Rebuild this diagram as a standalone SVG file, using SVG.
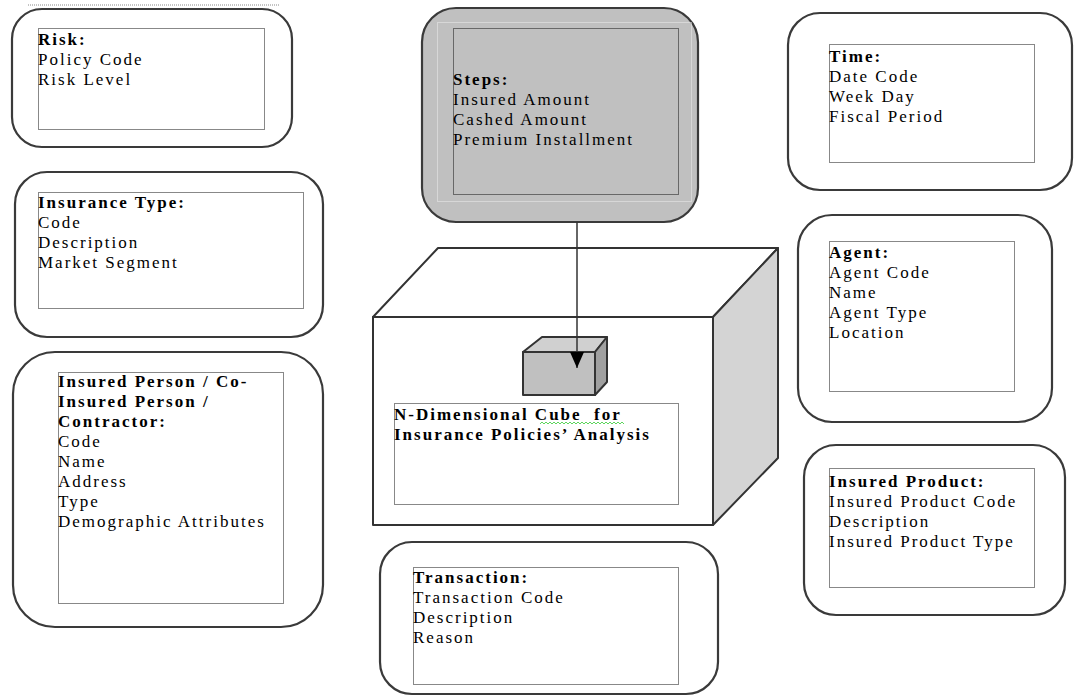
<svg xmlns="http://www.w3.org/2000/svg" width="1074" height="699" viewBox="0 0 1074 699">
<style>
.box{fill:#fff;stroke:#3a3a3a;stroke-width:2.2}
.dot{fill:none;stroke:#111;stroke-width:1;stroke-dasharray:1 1}
.t{font-family:"Liberation Serif","Times New Roman",serif;font-size:17px;letter-spacing:2px;fill:#000}
.b{font-weight:bold}
.edge{stroke:#333;stroke-width:2;stroke-linejoin:round}
</style>
<defs>
<marker id="ah" markerWidth="16" markerHeight="14" refX="16" refY="7" orient="auto" markerUnits="userSpaceOnUse" viewBox="0 0 16 14">
<path d="M0,0 L16,7 L0,14 Z" fill="#000"/>
</marker>
</defs>
<rect width="1074" height="699" fill="#fff"/>
<line x1="28" y1="5" x2="280" y2="5" stroke="#888" stroke-width="1" stroke-dasharray="1 1"/>

<g id="risk">
<rect class="box" x="12" y="9" width="280" height="138" rx="30"/>
<rect class="dot" x="38.5" y="28.5" width="226" height="101"/>
<text class="t" x="38" y="45"><tspan class="b">Risk:</tspan><tspan x="38" dy="20">Policy Code</tspan><tspan x="38" dy="20">Risk Level</tspan></text>
</g>

<g id="insurance-type">
<rect class="box" x="15" y="172" width="308" height="165" rx="32"/>
<rect class="dot" x="38.5" y="192.5" width="265" height="116"/>
<text class="t" x="38" y="208"><tspan class="b">Insurance Type:</tspan><tspan x="38" dy="20">Code</tspan><tspan x="38" dy="20">Description</tspan><tspan x="38" dy="20">Market Segment</tspan></text>
</g>

<g id="insured-person">
<rect class="box" x="13" y="352" width="310" height="275" rx="42"/>
<rect class="dot" x="58.5" y="372.5" width="225" height="231"/>
<text class="t" x="58" y="387"><tspan class="b">Insured Person / Co-</tspan><tspan class="b" x="58" dy="20">Insured Person /</tspan><tspan class="b" x="58" dy="20">Contractor:</tspan><tspan x="58" dy="20">Code</tspan><tspan x="58" dy="20">Name</tspan><tspan x="58" dy="20">Address</tspan><tspan x="58" dy="20">Type</tspan><tspan x="58" dy="20">Demographic Attributes</tspan></text>
</g>

<g id="steps">
<rect x="422" y="8" width="276" height="214" rx="34" fill="#c0c0c0" stroke="#3a3a3a" stroke-width="2.2"/>
<rect x="437.5" y="22.5" width="254" height="179" fill="none" stroke="#eee" stroke-width="1" stroke-dasharray="1 1"/>
<rect class="dot" x="453.5" y="28.5" width="225" height="166"/>
<text class="t" x="453" y="85"><tspan class="b">Steps:</tspan><tspan x="453" dy="20">Insured Amount</tspan><tspan x="453" dy="20">Cashed Amount</tspan><tspan x="453" dy="20">Premium Installment</tspan></text>
</g>

<g id="time">
<rect class="box" x="788" y="13" width="284" height="177" rx="32"/>
<rect class="dot" x="829.5" y="44.5" width="205" height="118"/>
<text class="t" x="829" y="62"><tspan class="b">Time:</tspan><tspan x="829" dy="20">Date Code</tspan><tspan x="829" dy="20">Week Day</tspan><tspan x="829" dy="20">Fiscal Period</tspan></text>
</g>

<g id="agent">
<rect class="box" x="798" y="215" width="254" height="207" rx="34"/>
<rect class="dot" x="829.5" y="241.5" width="185" height="150"/>
<text class="t" x="829" y="258"><tspan class="b">Agent:</tspan><tspan x="829" dy="20">Agent Code</tspan><tspan x="829" dy="20">Name</tspan><tspan x="829" dy="20">Agent Type</tspan><tspan x="829" dy="20">Location</tspan></text>
</g>

<g id="insured-product">
<rect class="box" x="804" y="445" width="261" height="170" rx="32"/>
<rect class="dot" x="829.5" y="468.5" width="205" height="119"/>
<text class="t" x="829" y="487"><tspan class="b">Insured Product:</tspan><tspan x="829" dy="20">Insured Product Code</tspan><tspan x="829" dy="20">Description</tspan><tspan x="829" dy="20">Insured Product Type</tspan></text>
</g>

<g id="transaction">
<rect class="box" x="380" y="542" width="338" height="152" rx="32"/>
<rect class="dot" x="413.5" y="567.5" width="265" height="117"/>
<text class="t" x="413" y="583"><tspan class="b">Transaction:</tspan><tspan x="413" dy="20">Transaction Code</tspan><tspan x="413" dy="20">Description</tspan><tspan x="413" dy="20">Reason</tspan></text>
</g>

<g id="n-cube">
<polygon class="edge" points="373,317 438,248 778,248 713,317" fill="#fff"/>
<polygon class="edge" points="713,317 778,248 778,458 713,525" fill="#d4d4d4"/>
<rect class="edge" x="373" y="317" width="340" height="208" fill="#fff"/>
<g id="small-cube">
<polygon class="edge" points="523,352 542,337 607,337 595,352" fill="#d0d0d0"/>
<polygon class="edge" points="595,352 607,337 607,382 595,395" fill="#a0a0a0"/>
<rect class="edge" x="523" y="352" width="72" height="43" fill="#c0c0c0"/>
</g>
<rect class="dot" x="394.5" y="403.5" width="284" height="101"/>
<text class="t b" x="394" y="420" xml:space="preserve"><tspan>N-Dimensional Cube  for</tspan><tspan x="394" dy="20">Insurance Policies’ Analysis</tspan></text>
<path d="M540,424 l2,-2 l2,2 l2,-2 l2,2 l2,-2 l2,2 l2,-2 l2,2 l2,-2 l2,2 l2,-2 l2,2 l2,-2 l2,2 l2,-2 l2,2 l2,-2 l2,2 l2,-2 l2,2 l2,-2 l2,2 l2,-2 l2,2 l2,-2 l2,2 l2,-2 l2,2 l2,-2 l2,2 l2,-2 l2,2 l2,-2 l2,2 l2,-2 l2,2 l2,-2 l2,2 l2,-2 l2,2 l2,-2 l2,2" fill="none" stroke="#3c3" stroke-width="0.8"/>
</g>

<g id="connectors">
<line x1="577" y1="222" x2="577" y2="368" stroke="#333" stroke-width="1.5" marker-end="url(#ah)"/>
</g>
</svg>
